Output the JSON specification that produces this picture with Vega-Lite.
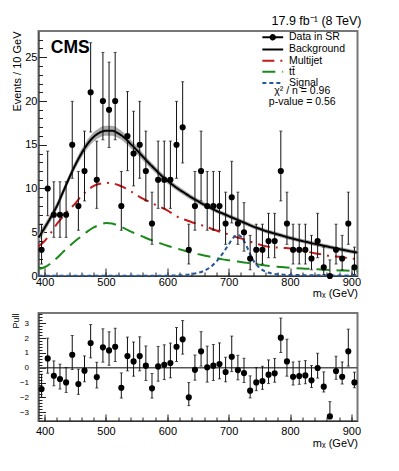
{
  "$schema": "https://vega.github.io/schema/vega-lite/v6.json",
  "padding": {"left": 10.5, "top": 13, "right": 10, "bottom": 5},
  "background": "white",
  "config": {
    "font": "Liberation Sans",
    "view": {"stroke": "#777777", "strokeWidth": 2},
    "mark": {"invalid": "filter"},
    "axis": {"grid": false, "domainColor": "#333333", "domainWidth": 1, "tickColor": "#222222", "tickWidth": 1, "labelColor": "black", "titleColor": "black", "titleFontWeight": "normal", "labelFont": "Liberation Sans", "titleFont": "Liberation Sans"},
    "concat": {"spacing": 12}
  },
  "datasets": {
    "pts": [
      {"x": 395, "n": 3, "lo": 1.37, "hi": 5.92, "pull": -1.44, "plo": -2.00, "phi": -0.44},
      {"x": 405, "n": 10, "lo": 6.89, "hi": 14.27, "pull": 0.63, "plo": -0.37, "phi": 2.00},
      {"x": 415, "n": 7, "lo": 4.42, "hi": 10.77, "pull": -0.54, "plo": -1.22, "phi": 0.46},
      {"x": 425, "n": 7, "lo": 4.42, "hi": 10.77, "pull": -0.76, "plo": -1.44, "phi": 0.24},
      {"x": 435, "n": 7, "lo": 4.42, "hi": 10.77, "pull": -0.99, "plo": -1.67, "phi": 0.01},
      {"x": 445, "n": 15, "lo": 11.17, "hi": 19.96, "pull": 0.88, "plo": -0.12, "phi": 2.18},
      {"x": 455, "n": 8, "lo": 5.23, "hi": 11.95, "pull": -1.10, "plo": -1.80, "phi": -0.10},
      {"x": 465, "n": 12, "lo": 8.58, "hi": 16.56, "pull": -0.20, "plo": -0.95, "phi": 0.80},
      {"x": 475, "n": 21, "lo": 16.46, "hi": 26.66, "pull": 1.67, "plo": 0.67, "phi": 2.92},
      {"x": 485, "n": 11, "lo": 7.73, "hi": 15.42, "pull": -0.63, "plo": -1.37, "phi": 0.37},
      {"x": 495, "n": 20, "lo": 15.57, "hi": 25.55, "pull": 1.38, "plo": 0.38, "phi": 2.63},
      {"x": 505, "n": 19, "lo": 14.68, "hi": 24.44, "pull": 1.17, "plo": 0.17, "phi": 2.43},
      {"x": 515, "n": 20, "lo": 15.57, "hi": 25.55, "pull": 1.42, "plo": 0.42, "phi": 2.67},
      {"x": 525, "n": 8, "lo": 5.23, "hi": 11.95, "pull": -1.35, "plo": -2.05, "phi": -0.35},
      {"x": 535, "n": 16, "lo": 12.04, "hi": 21.08, "pull": 0.79, "plo": -0.21, "phi": 2.07},
      {"x": 545, "n": 14, "lo": 10.30, "hi": 18.83, "pull": 0.43, "plo": -0.57, "phi": 1.74},
      {"x": 555, "n": 15, "lo": 11.17, "hi": 19.96, "pull": 0.79, "plo": -0.21, "phi": 2.09},
      {"x": 565, "n": 12, "lo": 8.58, "hi": 16.56, "pull": 0.14, "plo": -0.86, "phi": 1.47},
      {"x": 575, "n": 6, "lo": 3.62, "hi": 9.58, "pull": -1.39, "plo": -2.05, "phi": -0.39},
      {"x": 585, "n": 11, "lo": 7.73, "hi": 15.42, "pull": 0.09, "plo": -0.91, "phi": 1.44},
      {"x": 595, "n": 11, "lo": 7.73, "hi": 15.42, "pull": 0.20, "plo": -0.80, "phi": 1.55},
      {"x": 605, "n": 11, "lo": 7.73, "hi": 15.42, "pull": 0.32, "plo": -0.68, "phi": 1.67},
      {"x": 615, "n": 15, "lo": 11.17, "hi": 19.96, "pull": 1.42, "plo": 0.42, "phi": 2.72},
      {"x": 625, "n": 17, "lo": 12.92, "hi": 22.20, "pull": 1.92, "plo": 0.92, "phi": 3.19},
      {"x": 635, "n": 3, "lo": 1.37, "hi": 5.92, "pull": -2.00, "plo": -2.56, "phi": -1.00},
      {"x": 645, "n": 8, "lo": 5.23, "hi": 11.95, "pull": -0.14, "plo": -0.84, "phi": 0.86},
      {"x": 655, "n": 12, "lo": 8.58, "hi": 16.56, "pull": 1.11, "plo": 0.11, "phi": 2.44},
      {"x": 665, "n": 8, "lo": 5.23, "hi": 11.95, "pull": 0.03, "plo": -0.97, "phi": 1.46},
      {"x": 675, "n": 8, "lo": 5.23, "hi": 11.95, "pull": 0.14, "plo": -0.86, "phi": 1.57},
      {"x": 685, "n": 8, "lo": 5.23, "hi": 11.95, "pull": 0.25, "plo": -0.75, "phi": 1.68},
      {"x": 695, "n": 6, "lo": 3.62, "hi": 9.58, "pull": -0.29, "plo": -0.95, "phi": 0.71},
      {"x": 705, "n": 9, "lo": 6.06, "hi": 13.11, "pull": 0.74, "plo": -0.26, "phi": 2.14},
      {"x": 715, "n": 6, "lo": 3.62, "hi": 9.58, "pull": -0.16, "plo": -0.82, "phi": 0.84},
      {"x": 725, "n": 5, "lo": 2.84, "hi": 8.38, "pull": -0.36, "plo": -1.00, "phi": 0.64},
      {"x": 735, "n": 2, "lo": 0.71, "hi": 4.64, "pull": -1.55, "plo": -2.04, "phi": -0.55},
      {"x": 745, "n": 3, "lo": 1.37, "hi": 5.92, "pull": -0.99, "plo": -1.55, "phi": 0.01},
      {"x": 755, "n": 3, "lo": 1.37, "hi": 5.92, "pull": -0.90, "plo": -1.46, "phi": 0.10},
      {"x": 765, "n": 4, "lo": 2.09, "hi": 7.16, "pull": -0.47, "plo": -1.07, "phi": 0.53},
      {"x": 775, "n": 4, "lo": 2.09, "hi": 7.16, "pull": -0.38, "plo": -0.98, "phi": 0.62},
      {"x": 785, "n": 12, "lo": 8.58, "hi": 16.56, "pull": 2.03, "plo": 1.03, "phi": 3.36},
      {"x": 795, "n": 6, "lo": 3.62, "hi": 9.58, "pull": 0.43, "plo": -0.57, "phi": 1.93},
      {"x": 805, "n": 3, "lo": 1.37, "hi": 5.92, "pull": -0.61, "plo": -1.17, "phi": 0.39},
      {"x": 815, "n": 3, "lo": 1.37, "hi": 5.92, "pull": -0.56, "plo": -1.12, "phi": 0.44},
      {"x": 825, "n": 3, "lo": 1.37, "hi": 5.92, "pull": -0.52, "plo": -1.08, "phi": 0.48},
      {"x": 835, "n": 2, "lo": 0.71, "hi": 4.64, "pull": -0.85, "plo": -1.34, "phi": 0.15},
      {"x": 845, "n": 4, "lo": 2.09, "hi": 7.16, "pull": -0.02, "plo": -0.70, "phi": 0.98},
      {"x": 855, "n": 1, "lo": 0.17, "hi": 3.30, "pull": -1.28, "plo": -1.64, "phi": -0.28},
      {"x": 865, "n": 0, "lo": 0, "hi": 1.84, "pull": -3.29, "plo": -3.29, "phi": -2.29},
      {"x": 875, "n": 3, "lo": 1.37, "hi": 5.92, "pull": -0.22, "plo": -0.78, "phi": 0.78},
      {"x": 885, "n": 2, "lo": 0.71, "hi": 4.64, "pull": -0.61, "plo": -1.10, "phi": 0.39},
      {"x": 895, "n": 6, "lo": 3.62, "hi": 9.58, "pull": 1.11, "plo": 0.11, "phi": 2.61},
      {"x": 905, "n": 1, "lo": 0.17, "hi": 3.30, "pull": -0.99, "plo": -1.35, "phi": -0.30}
    ],
    "curves": [
      {"x": 390, "Background": 4.4, "Multijet": 3.4, "ttbar": 0.8, "Signal": 0.03, "blo": 3.9, "bhi": 4.9},
      {"x": 400, "Background": 5.5, "Multijet": 4.0, "ttbar": 1.0, "Signal": 0.03, "blo": 5.02, "bhi": 5.98},
      {"x": 410, "Background": 6.7, "Multijet": 4.9, "ttbar": 1.45, "Signal": 0.03, "blo": 6.25, "bhi": 7.15},
      {"x": 420, "Background": 8.0, "Multijet": 5.95, "ttbar": 2.05, "Signal": 0.03, "blo": 7.56, "bhi": 8.44},
      {"x": 430, "Background": 9.6, "Multijet": 6.8, "ttbar": 2.75, "Signal": 0.03, "blo": 9.16, "bhi": 10.04},
      {"x": 440, "Background": 11.2, "Multijet": 7.6, "ttbar": 3.4, "Signal": 0.03, "blo": 10.76, "bhi": 11.64},
      {"x": 450, "Background": 12.7, "Multijet": 8.3, "ttbar": 4.0, "Signal": 0.03, "blo": 12.25, "bhi": 13.15},
      {"x": 460, "Background": 14.0, "Multijet": 9.15, "ttbar": 4.55, "Signal": 0.03, "blo": 13.52, "bhi": 14.48},
      {"x": 470, "Background": 15.1, "Multijet": 9.8, "ttbar": 5.1, "Signal": 0.03, "blo": 14.6, "bhi": 15.6},
      {"x": 480, "Background": 15.9, "Multijet": 10.3, "ttbar": 5.55, "Signal": 0.03, "blo": 15.38, "bhi": 16.42},
      {"x": 490, "Background": 16.4, "Multijet": 10.55, "ttbar": 5.85, "Signal": 0.03, "blo": 15.85, "bhi": 16.95},
      {"x": 500, "Background": 16.6, "Multijet": 10.65, "ttbar": 6.05, "Signal": 0.03, "blo": 16.04, "bhi": 17.16},
      {"x": 510, "Background": 16.6, "Multijet": 10.6, "ttbar": 6.0, "Signal": 0.03, "blo": 16.04, "bhi": 17.16},
      {"x": 520, "Background": 16.3, "Multijet": 10.4, "ttbar": 5.75, "Signal": 0.03, "blo": 15.76, "bhi": 16.84},
      {"x": 530, "Background": 15.8, "Multijet": 10.1, "ttbar": 5.45, "Signal": 0.03, "blo": 15.29, "bhi": 16.31},
      {"x": 540, "Background": 15.1, "Multijet": 9.7, "ttbar": 5.1, "Signal": 0.03, "blo": 14.61, "bhi": 15.59},
      {"x": 550, "Background": 14.4, "Multijet": 9.25, "ttbar": 4.8, "Signal": 0.03, "blo": 13.95, "bhi": 14.85},
      {"x": 560, "Background": 13.65, "Multijet": 8.85, "ttbar": 4.5, "Signal": 0.03, "blo": 13.23, "bhi": 14.07},
      {"x": 570, "Background": 12.9, "Multijet": 8.5, "ttbar": 4.2, "Signal": 0.03, "blo": 12.5, "bhi": 13.3},
      {"x": 580, "Background": 12.2, "Multijet": 8.15, "ttbar": 3.95, "Signal": 0.03, "blo": 11.83, "bhi": 12.57},
      {"x": 590, "Background": 11.5, "Multijet": 7.85, "ttbar": 3.7, "Signal": 0.03, "blo": 11.15, "bhi": 11.85},
      {"x": 600, "Background": 10.9, "Multijet": 7.5, "ttbar": 3.45, "Signal": 0.03, "blo": 10.56, "bhi": 11.24},
      {"x": 610, "Background": 10.35, "Multijet": 7.05, "ttbar": 3.25, "Signal": 0.05, "blo": 10.03, "bhi": 10.67},
      {"x": 620, "Background": 9.85, "Multijet": 6.65, "ttbar": 3.05, "Signal": 0.08, "blo": 9.54, "bhi": 10.16},
      {"x": 630, "Background": 9.4, "Multijet": 6.4, "ttbar": 2.85, "Signal": 0.13, "blo": 9.1, "bhi": 9.7},
      {"x": 640, "Background": 8.95, "Multijet": 6.15, "ttbar": 2.65, "Signal": 0.22, "blo": 8.66, "bhi": 9.24},
      {"x": 650, "Background": 8.55, "Multijet": 5.95, "ttbar": 2.5, "Signal": 0.36, "blo": 8.27, "bhi": 8.83},
      {"x": 660, "Background": 8.15, "Multijet": 5.7, "ttbar": 2.35, "Signal": 0.6, "blo": 7.88, "bhi": 8.42},
      {"x": 670, "Background": 7.8, "Multijet": 5.45, "ttbar": 2.2, "Signal": 1.0, "blo": 7.54, "bhi": 8.06},
      {"x": 680, "Background": 7.45, "Multijet": 5.2, "ttbar": 2.05, "Signal": 1.65, "blo": 7.19, "bhi": 7.71},
      {"x": 690, "Background": 7.15, "Multijet": 4.95, "ttbar": 1.9, "Signal": 2.55, "blo": 6.9, "bhi": 7.4},
      {"x": 700, "Background": 6.85, "Multijet": 4.75, "ttbar": 1.8, "Signal": 3.6, "blo": 6.61, "bhi": 7.09},
      {"x": 705, "Signal": 4.15},
      {"x": 710, "Background": 6.55, "Multijet": 4.5, "ttbar": 1.7, "Signal": 4.55, "blo": 6.31, "bhi": 6.79},
      {"x": 715, "Signal": 4.7},
      {"x": 720, "Background": 6.25, "Multijet": 4.3, "ttbar": 1.6, "Signal": 4.5, "blo": 6.01, "bhi": 6.49},
      {"x": 725, "Signal": 4.0},
      {"x": 730, "Background": 5.95, "Multijet": 4.05, "ttbar": 1.5, "Signal": 3.3, "blo": 5.71, "bhi": 6.19},
      {"x": 735, "Signal": 2.5},
      {"x": 740, "Background": 5.65, "Multijet": 3.8, "ttbar": 1.4, "Signal": 1.8, "blo": 5.41, "bhi": 5.89},
      {"x": 750, "Background": 5.4, "Multijet": 3.6, "ttbar": 1.3, "Signal": 0.95, "blo": 5.16, "bhi": 5.64},
      {"x": 760, "Background": 5.15, "Multijet": 3.4, "ttbar": 1.2, "Signal": 0.5, "blo": 4.91, "bhi": 5.39},
      {"x": 770, "Background": 4.95, "Multijet": 3.3, "ttbar": 1.12, "Signal": 0.3, "blo": 4.71, "bhi": 5.19},
      {"x": 780, "Background": 4.75, "Multijet": 3.25, "ttbar": 1.05, "Signal": 0.2, "blo": 4.51, "bhi": 4.99},
      {"x": 790, "Background": 4.55, "Multijet": 3.2, "ttbar": 1.0, "Signal": 0.15, "blo": 4.31, "bhi": 4.79},
      {"x": 800, "Background": 4.35, "Multijet": 3.15, "ttbar": 0.95, "Signal": 0.12, "blo": 4.11, "bhi": 4.59},
      {"x": 810, "Background": 4.17, "Multijet": 3.0, "ttbar": 0.9, "Signal": 0.11, "blo": 3.93, "bhi": 4.41},
      {"x": 820, "Background": 4.0, "Multijet": 2.9, "ttbar": 0.86, "Signal": 0.1, "blo": 3.76, "bhi": 4.24},
      {"x": 830, "Background": 3.84, "Multijet": 2.75, "ttbar": 0.82, "Signal": 0.09, "blo": 3.6, "bhi": 4.08},
      {"x": 840, "Background": 3.68, "Multijet": 2.6, "ttbar": 0.78, "Signal": 0.09, "blo": 3.44, "bhi": 3.92},
      {"x": 850, "Background": 3.53, "Multijet": 2.5, "ttbar": 0.74, "Signal": 0.08, "blo": 3.29, "bhi": 3.77},
      {"x": 860, "Background": 3.38, "Multijet": 2.35, "ttbar": 0.7, "Signal": 0.07, "blo": 3.14, "bhi": 3.62},
      {"x": 870, "Background": 3.23, "Multijet": 2.25, "ttbar": 0.67, "Signal": 0.07, "blo": 2.99, "bhi": 3.47},
      {"x": 880, "Background": 3.08, "Multijet": 2.2, "ttbar": 0.64, "Signal": 0.06, "blo": 2.84, "bhi": 3.32},
      {"x": 890, "Background": 2.94, "Multijet": 2.1, "ttbar": 0.62, "Signal": 0.06, "blo": 2.7, "bhi": 3.18},
      {"x": 900, "Background": 2.8, "Multijet": 2.0, "ttbar": 0.6, "Signal": 0.05, "blo": 2.56, "bhi": 3.04},
      {"x": 910, "Background": 2.67, "Multijet": 1.95, "ttbar": 0.58, "Signal": 0.05, "blo": 2.43, "bhi": 2.91}
    ]
  },
  "vconcat": [
    {
      "width": 319,
      "height": 245,
      "title": {"text": "17.9 fb⁻¹ (8 TeV)", "anchor": "end", "fontSize": 12.5, "fontWeight": "normal", "offset": 4, "font": "Liberation Sans"},
      "resolve": {"axis": {"x": "independent", "y": "independent"}},
      "layer": [
        {
          "data": {"name": "curves"},
          "mark": {"type": "area", "color": "#a9a9a9", "interpolate": "monotone", "invalid": "filter"},
          "encoding": {
            "x": {"field": "x", "type": "quantitative", "scale": {"domain": [390, 910], "nice": false, "zero": false},
                  "axis": {"orient": "bottom", "values": [400, 500, 600, 700, 800, 900], "tickSize": -8, "labelFontSize": 11, "labelPadding": 8, "title": "mₓ (GeV)", "titleAnchor": "end", "titleFontSize": 11, "titlePadding": 0}},
            "y": {"field": "blo", "type": "quantitative", "scale": {"domain": [0, 28], "nice": false, "zero": false},
                  "axis": {"orient": "left", "values": [0, 5, 10, 15, 20, 25], "tickSize": -8, "labelFontSize": 11, "labelPadding": 9.5, "title": "Events / 10 GeV", "titleAnchor": "end", "titleFontSize": 11, "titlePadding": 2}},
            "y2": {"field": "bhi"}
          }
        },
        {
          "data": {"name": "curves"},
          "transform": [{"fold": ["ttbar", "Multijet", "Signal", "Background"], "as": ["s", "v"]}, {"filter": "isValid(datum.v)"}],
          "mark": {"type": "line", "strokeWidth": 2, "interpolate": "monotone", "invalid": "filter"},
          "encoding": {
            "x": {"field": "x", "type": "quantitative",
                  "axis": {"orient": "bottom", "values": [400, 420, 440, 460, 480, 500, 520, 540, 560, 580, 600, 620, 640, 660, 680, 700, 720, 740, 760, 780, 800, 820, 840, 860, 880, 900], "tickSize": -4, "labels": false, "domain": false, "title": null}},
            "y": {"field": "v", "type": "quantitative",
                  "axis": {"orient": "left", "values": [1, 2, 3, 4, 6, 7, 8, 9, 11, 12, 13, 14, 16, 17, 18, 19, 21, 22, 23, 24, 26, 27], "tickSize": -4, "labels": false, "domain": false, "title": null}},
            "color": {
              "field": "s", "type": "nominal",
              "scale": {"domain": ["Data in SR", "Background", "Multijet", "ttbar", "Signal"], "range": ["#000000", "#000000", "#c41a1a", "#1a8a1a", "#23589a"]},
              "legend": {
                "orient": "none", "legendX": 229, "legendY": 1, "title": null, "symbolType": "M-2.6,0L2.6,0", "symbolStrokeWidth": 2, "symbolSize": 64,
                "labelFontSize": 10.5, "labelOffset": 11, "rowPadding": 0.2, "padding": 0,
                "labelExpr": "datum.label == 'ttbar' ? 'tt̄' : datum.label",
                "encode": {
                  "symbols": {
                    "update": {
                      "shape": {"signal": "datum.value == 'Data in SR' ? 'M-2.6,0L2.6,0M-0.55,0A0.55,0.55,0,1,1,0.55,0A0.55,0.55,0,1,1,-0.55,0Z' : 'M-2.6,0L2.6,0'"},
                      "fill": {"signal": "datum.value == 'Data in SR' ? '#000000' : 'transparent'"}
                    }
                  }
                }
              }
            },
            "strokeDash": {
              "field": "s", "type": "nominal",
              "scale": {"domain": ["Data in SR", "Background", "Multijet", "ttbar", "Signal"], "range": [[1, 0], [1, 0], [12, 6, 2, 6], [13, 7], [4, 3]]},
              "legend": {
                "orient": "none", "legendX": 229, "legendY": 1, "title": null, "symbolType": "M-2.6,0L2.6,0", "symbolStrokeWidth": 2, "symbolSize": 64,
                "labelFontSize": 10.5, "labelOffset": 11, "rowPadding": 0.2, "padding": 0,
                "labelExpr": "datum.label == 'ttbar' ? 'tt̄' : datum.label",
                "encode": {
                  "symbols": {
                    "update": {
                      "shape": {"signal": "datum.value == 'Data in SR' ? 'M-2.6,0L2.6,0M-0.55,0A0.55,0.55,0,1,1,0.55,0A0.55,0.55,0,1,1,-0.55,0Z' : 'M-2.6,0L2.6,0'"},
                      "fill": {"signal": "datum.value == 'Data in SR' ? '#000000' : 'transparent'"}
                    }
                  }
                }
              }
            }
          }
        },
        {
          "data": {"name": "pts"},
          "mark": {"type": "rule", "color": "#111111", "strokeWidth": 1},
          "encoding": {
            "x": {"field": "x", "type": "quantitative", "axis": null},
            "y": {"field": "lo", "type": "quantitative", "axis": null},
            "y2": {"field": "hi"}
          }
        },
        {
          "data": {"name": "pts"},
          "mark": {"type": "tick", "orient": "horizontal", "size": 3, "thickness": 1, "color": "#111111"},
          "encoding": {
            "x": {"field": "x", "type": "quantitative", "axis": null},
            "y": {"field": "hi", "type": "quantitative", "axis": null}
          }
        },
        {
          "data": {"name": "pts"},
          "mark": {"type": "tick", "orient": "horizontal", "size": 3, "thickness": 1, "color": "#111111"},
          "encoding": {
            "x": {"field": "x", "type": "quantitative", "axis": null},
            "y": {"field": "lo", "type": "quantitative", "axis": null}
          }
        },
        {
          "data": {"name": "pts"},
          "mark": {"type": "point", "shape": "circle", "filled": true, "size": 38, "color": "#000000", "opacity": 1},
          "encoding": {
            "x": {"field": "x", "type": "quantitative", "axis": null},
            "y": {"field": "n", "type": "quantitative", "axis": null}
          }
        },
        {
          "data": {"values": [{}]},
          "mark": {"type": "text", "text": "CMS", "fontWeight": "bold", "fontSize": 17.5, "align": "left", "baseline": "alphabetic", "font": "Liberation Sans"},
          "encoding": {
            "x": {"datum": 410, "type": "quantitative", "axis": null},
            "y": {"datum": 25.5, "type": "quantitative", "axis": null}
          }
        },
        {
          "data": {"values": [{}]},
          "mark": {"type": "text", "text": "χ² / n = 0.96", "fontSize": 10.5, "align": "center", "baseline": "middle", "font": "Liberation Sans"},
          "encoding": {
            "x": {"datum": 820, "type": "quantitative", "axis": null},
            "y": {"datum": 21.2, "type": "quantitative", "axis": null}
          }
        },
        {
          "data": {"values": [{}]},
          "mark": {"type": "text", "text": "p-value = 0.56", "fontSize": 10.5, "align": "center", "baseline": "middle", "font": "Liberation Sans"},
          "encoding": {
            "x": {"datum": 820, "type": "quantitative", "axis": null},
            "y": {"datum": 19.9, "type": "quantitative", "axis": null}
          }
        }
      ]
    },
    {
      "width": 319,
      "height": 108,
      "resolve": {"axis": {"x": "independent", "y": "independent"}},
      "layer": [
        {
          "data": {"values": [{}]},
          "mark": {"type": "rule", "color": "#555555", "strokeWidth": 1.5},
          "encoding": {
            "y": {"datum": 0, "type": "quantitative", "axis": null, "scale": {"domain": [-3.6, 3.7], "nice": false, "zero": false}}
          }
        },
        {
          "data": {"name": "pts"},
          "mark": {"type": "rule", "color": "#111111", "strokeWidth": 1},
          "encoding": {
            "x": {"field": "x", "type": "quantitative", "scale": {"domain": [390, 910], "nice": false, "zero": false},
                  "axis": {"orient": "bottom", "values": [400, 500, 600, 700, 800, 900], "tickSize": -7, "labelFontSize": 11, "labelPadding": 11, "title": "mₓ (GeV)", "titleAnchor": "end", "titleFontSize": 11, "titlePadding": 1}},
            "y": {"field": "plo", "type": "quantitative",
                  "axis": {"orient": "left", "values": [-3, -2, -1, 0, 1, 2, 3], "tickSize": -7, "labelFontSize": 8, "labelPadding": 17, "title": "Pull", "titleAnchor": "end", "titleFontSize": 9, "titlePadding": -1.5}},
            "y2": {"field": "phi"}
          }
        },
        {
          "data": {"name": "pts"},
          "mark": {"type": "tick", "orient": "horizontal", "size": 3, "thickness": 1, "color": "#111111"},
          "encoding": {
            "x": {"field": "x", "type": "quantitative", "axis": null},
            "y": {"field": "phi", "type": "quantitative", "axis": null}
          }
        },
        {
          "data": {"name": "pts"},
          "mark": {"type": "tick", "orient": "horizontal", "size": 3, "thickness": 1, "color": "#111111"},
          "encoding": {
            "x": {"field": "x", "type": "quantitative", "axis": null},
            "y": {"field": "plo", "type": "quantitative", "axis": null}
          }
        },
        {
          "data": {"name": "pts"},
          "mark": {"type": "point", "shape": "circle", "filled": true, "size": 38, "color": "#000000", "opacity": 1},
          "encoding": {
            "x": {"field": "x", "type": "quantitative",
                  "axis": {"orient": "bottom", "values": [400, 420, 440, 460, 480, 500, 520, 540, 560, 580, 600, 620, 640, 660, 680, 700, 720, 740, 760, 780, 800, 820, 840, 860, 880, 900], "tickSize": -4, "labels": false, "domain": false, "title": null}},
            "y": {"field": "pull", "type": "quantitative",
                  "axis": {"orient": "left", "values": [-3.4, -3.2, -2.8, -2.6, -2.4, -2.2, -1.8, -1.6, -1.4, -1.2, -0.8, -0.6, -0.4, -0.2, 0.2, 0.4, 0.6, 0.8, 1.2, 1.4, 1.6, 1.8, 2.2, 2.4, 2.6, 2.8, 3.2, 3.4, 3.6], "tickSize": -3.5, "labels": false, "domain": false, "title": null}}
          }
        }
      ]
    }
  ]
}
